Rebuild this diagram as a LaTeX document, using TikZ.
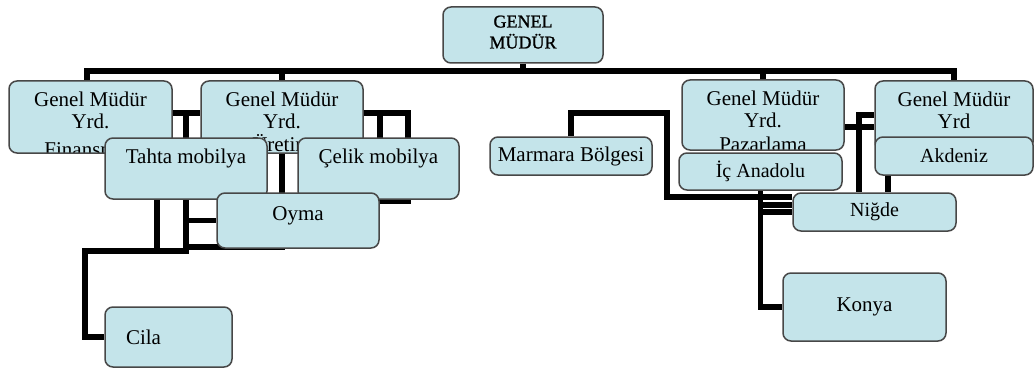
\documentclass[tikz,border=0pt]{standalone}
\usepackage{fontspec}
\setmainfont{Liberation Serif}
\usetikzlibrary{backgrounds}
\definecolor{boxblue}{RGB}{196,228,234}
\tikzset{
  box/.style={draw=black!72, line width=1.5pt, fill=boxblue, rounded corners=8pt,
    inner sep=2pt, font=\fontsize{21}{22}\selectfont},
  conn/.style={draw=black, line width=5.5pt, line join=miter},
  toptext/.style 2 args={path picture={\node[draw=none, fill=none, minimum width=0pt,
      minimum height=0pt, inner sep=0pt, anchor=north, align=center]
      at ([yshift=-#1pt]path picture bounding box.north) {#2};}},
  smallfont/.style={font=\fontsize{20}{22}\selectfont}
}
\begin{document}
\begin{tikzpicture}[x=1pt,y=-1pt]
\useasboundingbox (0,0) rectangle (1034,369);

% boxes (drawing order gives the overlaps)
\node[box, minimum width=160pt, minimum height=56pt,
      font=\fontsize{18}{21}\selectfont\addfontfeature{FakeBold=1.2},
      toptext={7.8}{GENEL\\MÜDÜR}] (gm) at (523,35) {};
\node[box, minimum width=163pt, minimum height=72pt,
      toptext={10.5}{Genel Müdür\\Yrd.\\[6pt]Finansman}] (b1) at (90.5,117) {};
\node[box, minimum width=162pt, minimum height=72pt,
      toptext={10.5}{Genel Müdür\\Yrd.\\[1pt]Üretim}] (b2) at (282,117) {};
\node[box, minimum width=162pt, minimum height=70pt,
      toptext={10.5}{Genel Müdür\\Yrd.\\[2pt]Pazarlama}] (paz) at (763,115) {};
\node[box, minimum width=158pt, minimum height=69pt,
      toptext={10}{Genel Müdür\\Yrd}] (ryrd) at (954,115.5) {};
\node[box, minimum width=162pt, minimum height=38pt] (marm) at (571,156) {Marmara Bölgesi};
\node[box, smallfont, minimum width=163pt, minimum height=37pt] (ic) at (760.5,171.5) {İç Anadolu};
\node[box, smallfont, minimum width=158pt, minimum height=38pt] (akd) at (954,156) {Akdeniz};
\node[box, minimum width=162pt, minimum height=61pt,
      toptext={10.5}{Tahta mobilya}] (taht) at (186,168.5) {};
\node[box, minimum width=161pt, minimum height=61pt,
      toptext={10.5}{Çelik mobilya}] (celik) at (378.5,168.5) {};
\node[box, minimum width=162pt, minimum height=55pt,
      toptext={12.8}{Oyma}] (oyma) at (298,220.5) {};
\node[box, smallfont, minimum width=163pt, minimum height=38pt] (nigde) at (874.5,212) {Niğde};
\node[box, minimum width=163pt, minimum height=68pt] (konya) at (864.5,307) {Konya};
\node[box, minimum width=127pt, minimum height=60pt, inner xsep=21pt,
      text width=85pt, align=left] (cila) at (168.5,337) {Cila};

% junction coordinates
\coordinate (bus) at (0,71);
\coordinate (hA) at (0,113);
\coordinate (jl1) at (186,113);
\coordinate (jl3) at (85,251);
\coordinate (jl8) at (186,247);
\coordinate (jl5) at (408,201);
\coordinate (jl6) at (300,201);
\coordinate (jl7) at (380,113);
\coordinate (jr1) at (667,113);
\coordinate (jr2) at (667,197);
\coordinate (jr3) at (0,205);
\coordinate (jr5) at (0,127);
\coordinate (jr6) at (859,115);
\coordinate (jr8) at (888,0);

\begin{pgfonlayer}{background}
\fill[white] (0,0) rectangle (1034,369);
% top bus
\draw[conn] (gm.south) -- (gm.south |- bus);
\draw[conn] ([xshift=-3.5pt]b1.north) |- (bus -| ryrd.north) -- (ryrd.north);
\draw[conn] (b2.north) -- (b2.north |- bus);
\draw[conn] (paz.north) -- (paz.north |- bus);
% left group
\draw[conn] (b1.east |- hA) -- (b2.west |- hA);
\draw[conn] (jl1) |- (jl3) |- (cila.west);
\draw[conn] ([xshift=-29pt]taht.center) -- ([xshift=-29pt]taht.center |- jl3);
\draw[conn] (jl1 |- oyma.west) -- (oyma.west);
\draw[conn] (b2.south) |- (jl8);
\draw[conn] (b2.east |- hA) -| (jl5) -- (jl6);
\draw[conn] (jl7) -- (jl7 |- celik.center);
% right group
\draw[conn] (marm.north) |- (jr1) -- (jr2) -- (jr2 -| nigde.west);
\draw[conn] (ic.south) |- (konya.west);
\draw[conn] (ic.south |- jr3) -- (nigde.west |- jr3);
\draw[conn] (ic.south |- nigde.west) -- (nigde.west);
\draw[conn] (paz.east |- jr5) -- (ryrd.west |- jr5);
\draw[conn] (ryrd.west |- jr6) -- (jr6) -- (jr6 |- nigde.north);
\draw[conn] (akd.south -| jr8) -- (nigde.north -| jr8);
\end{pgfonlayer}
\end{tikzpicture}
\end{document}
